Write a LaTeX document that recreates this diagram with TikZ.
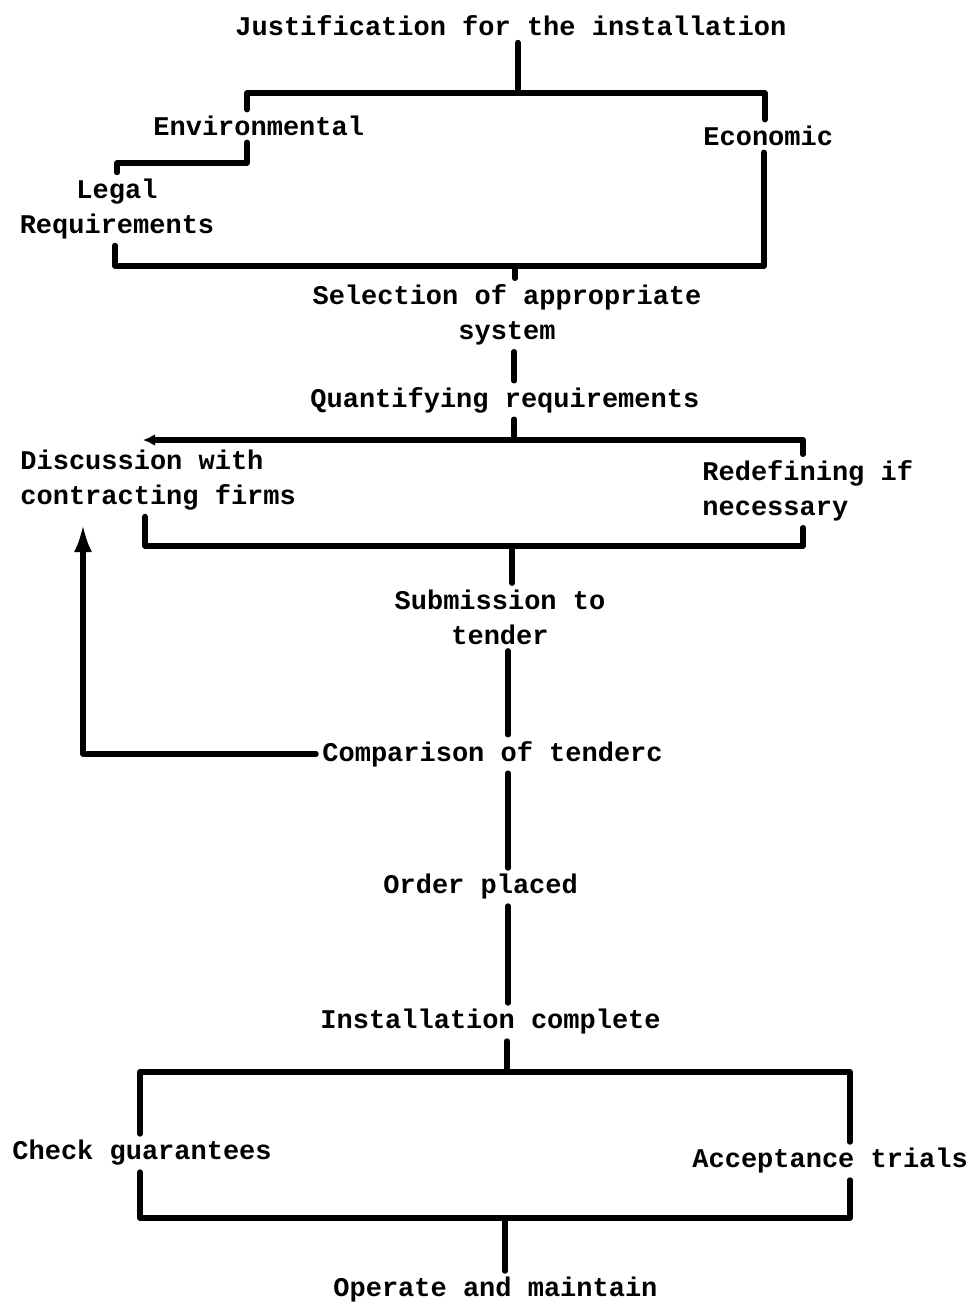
\documentclass[tikz,border=0pt]{standalone}
\usepackage{fontspec}
\setmainfont{Liberation Mono}
\usetikzlibrary{arrows.meta}

\begin{document}
\begin{tikzpicture}[x=0.5pt,y=-0.5pt,
  lbl/.style={font=\bfseries\fontsize{13.5}{17.5}\selectfont,inner sep=3pt},
  wire/.style={line width=2.7pt,line cap=round,line join=round}]
  \useasboundingbox (0,0) rectangle (975,1307);
  % Labels
  \node[lbl,anchor=west] (just) at (229,26) {Justification for the installation};
  \node[lbl,anchor=west] (env) at (147,126) {Environmental};
  \node[lbl,anchor=west] (econ) at (697,136) {Economic};
  \node[lbl,align=center] (legal) at (117,209) {Legal\\Requirements};
  \node[lbl,align=center] (sel) at (507,315) {Selection of appropriate\\system};
  \node[lbl,anchor=west] (quant) at (304,400) {Quantifying requirements};
  \node[lbl,anchor=west,align=left] (disc) at (14,480) {Discussion with\\contracting firms};
  \node[lbl,anchor=west,align=left] (redef) at (696,491) {Redefining if\\necessary};
  \node[lbl,align=center] (subm) at (500,617) {Submission to\\tender};
  \node[lbl,anchor=west] (comp) at (316,754) {Comparison of tenderc};
  \node[lbl,anchor=west] (order) at (377,887) {Order placed};
  \node[lbl,anchor=west] (inst) at (314,1022) {Installation complete};
  \node[lbl,anchor=west] (check) at (6,1153) {Check guarantees};
  \node[lbl,anchor=west] (accept) at (686,1161) {Acceptance trials};
  \node[lbl,anchor=west] (oper) at (327,1290) {Operate and maintain};

  % Corners of the brackets
  \coordinate (j1) at (518,93);
  \coordinate (j1l) at (247,93);
  \coordinate (j1r) at (765,93);
  \coordinate (j2r) at (247,163);
  \coordinate (j2l) at (117,163);
  \coordinate (k1) at (515,266);
  \coordinate (k1l) at (115,266);
  \coordinate (k1r) at (764,266);
  \coordinate (q1) at (514,440);
  \coordinate (q1l) at (143,440);
  \coordinate (q1r) at (803,440);
  \coordinate (s1) at (512,546);
  \coordinate (s1l) at (145,546);
  \coordinate (s1r) at (803,546);
  \coordinate (fb) at (83,754);
  \coordinate (fbtop) at (83,524);
  \coordinate (i1) at (507,1072);
  \coordinate (i1l) at (140,1072);
  \coordinate (i1r) at (850,1072);
  \coordinate (o1) at (505,1218);
  \coordinate (o1l) at (140,1218);
  \coordinate (o1r) at (850,1218);

  % Justification
  \draw[wire] (just.south -| j1) -- (j1);
  \draw[wire] (env.north -| j1l) -- (j1l) -- (j1r) -- (econ.north -| j1r);
  \draw[wire] (env.south -| j2r) -- (j2r) -- (j2l) -- (legal.north -| j2l);
  \draw[wire] (legal.south -| k1l) -- (k1l) -- (k1r) -- (econ.south -| k1r);
  \draw[wire] (k1) -- (sel.north -| k1);
  % Requirements
  \draw[wire] (sel.south -| q1) -- (quant.north -| q1);
  \draw[wire] (quant.south -| q1) -- (q1);
  \draw[wire,-{Latex[length=6pt,width=6pt]}] (q1r) -- (q1l);
  \draw[wire] (q1r) -- (redef.north -| q1r);
  \draw[wire] (disc.south -| s1l) -- (s1l) -- (s1r) -- (redef.south -| s1r);
  \draw[wire] (s1) -- (subm.north -| s1);
  % Tenders
  \draw[wire] (subm.south -| 508,0) -- (comp.north -| 508,0);
  \draw[wire,-{Latex[length=14pt,width=9pt]}] (comp.west) -- (fb) -- (fbtop);
  \draw[wire] (comp.south -| 508,0) -- (order.north -| 508,0);
  \draw[wire] (order.south -| 508,0) -- (inst.north -| 508,0);
  % Installation
  \draw[wire] (inst.south -| i1) -- (i1);
  \draw[wire] (check.north -| i1l) -- (i1l) -- (i1r) -- (accept.north -| i1r);
  \draw[wire] (check.south -| o1l) -- (o1l) -- (o1r) -- (accept.south -| o1r);
  \draw[wire] (o1) -- (oper.north -| o1);
\end{tikzpicture}
\end{document}
